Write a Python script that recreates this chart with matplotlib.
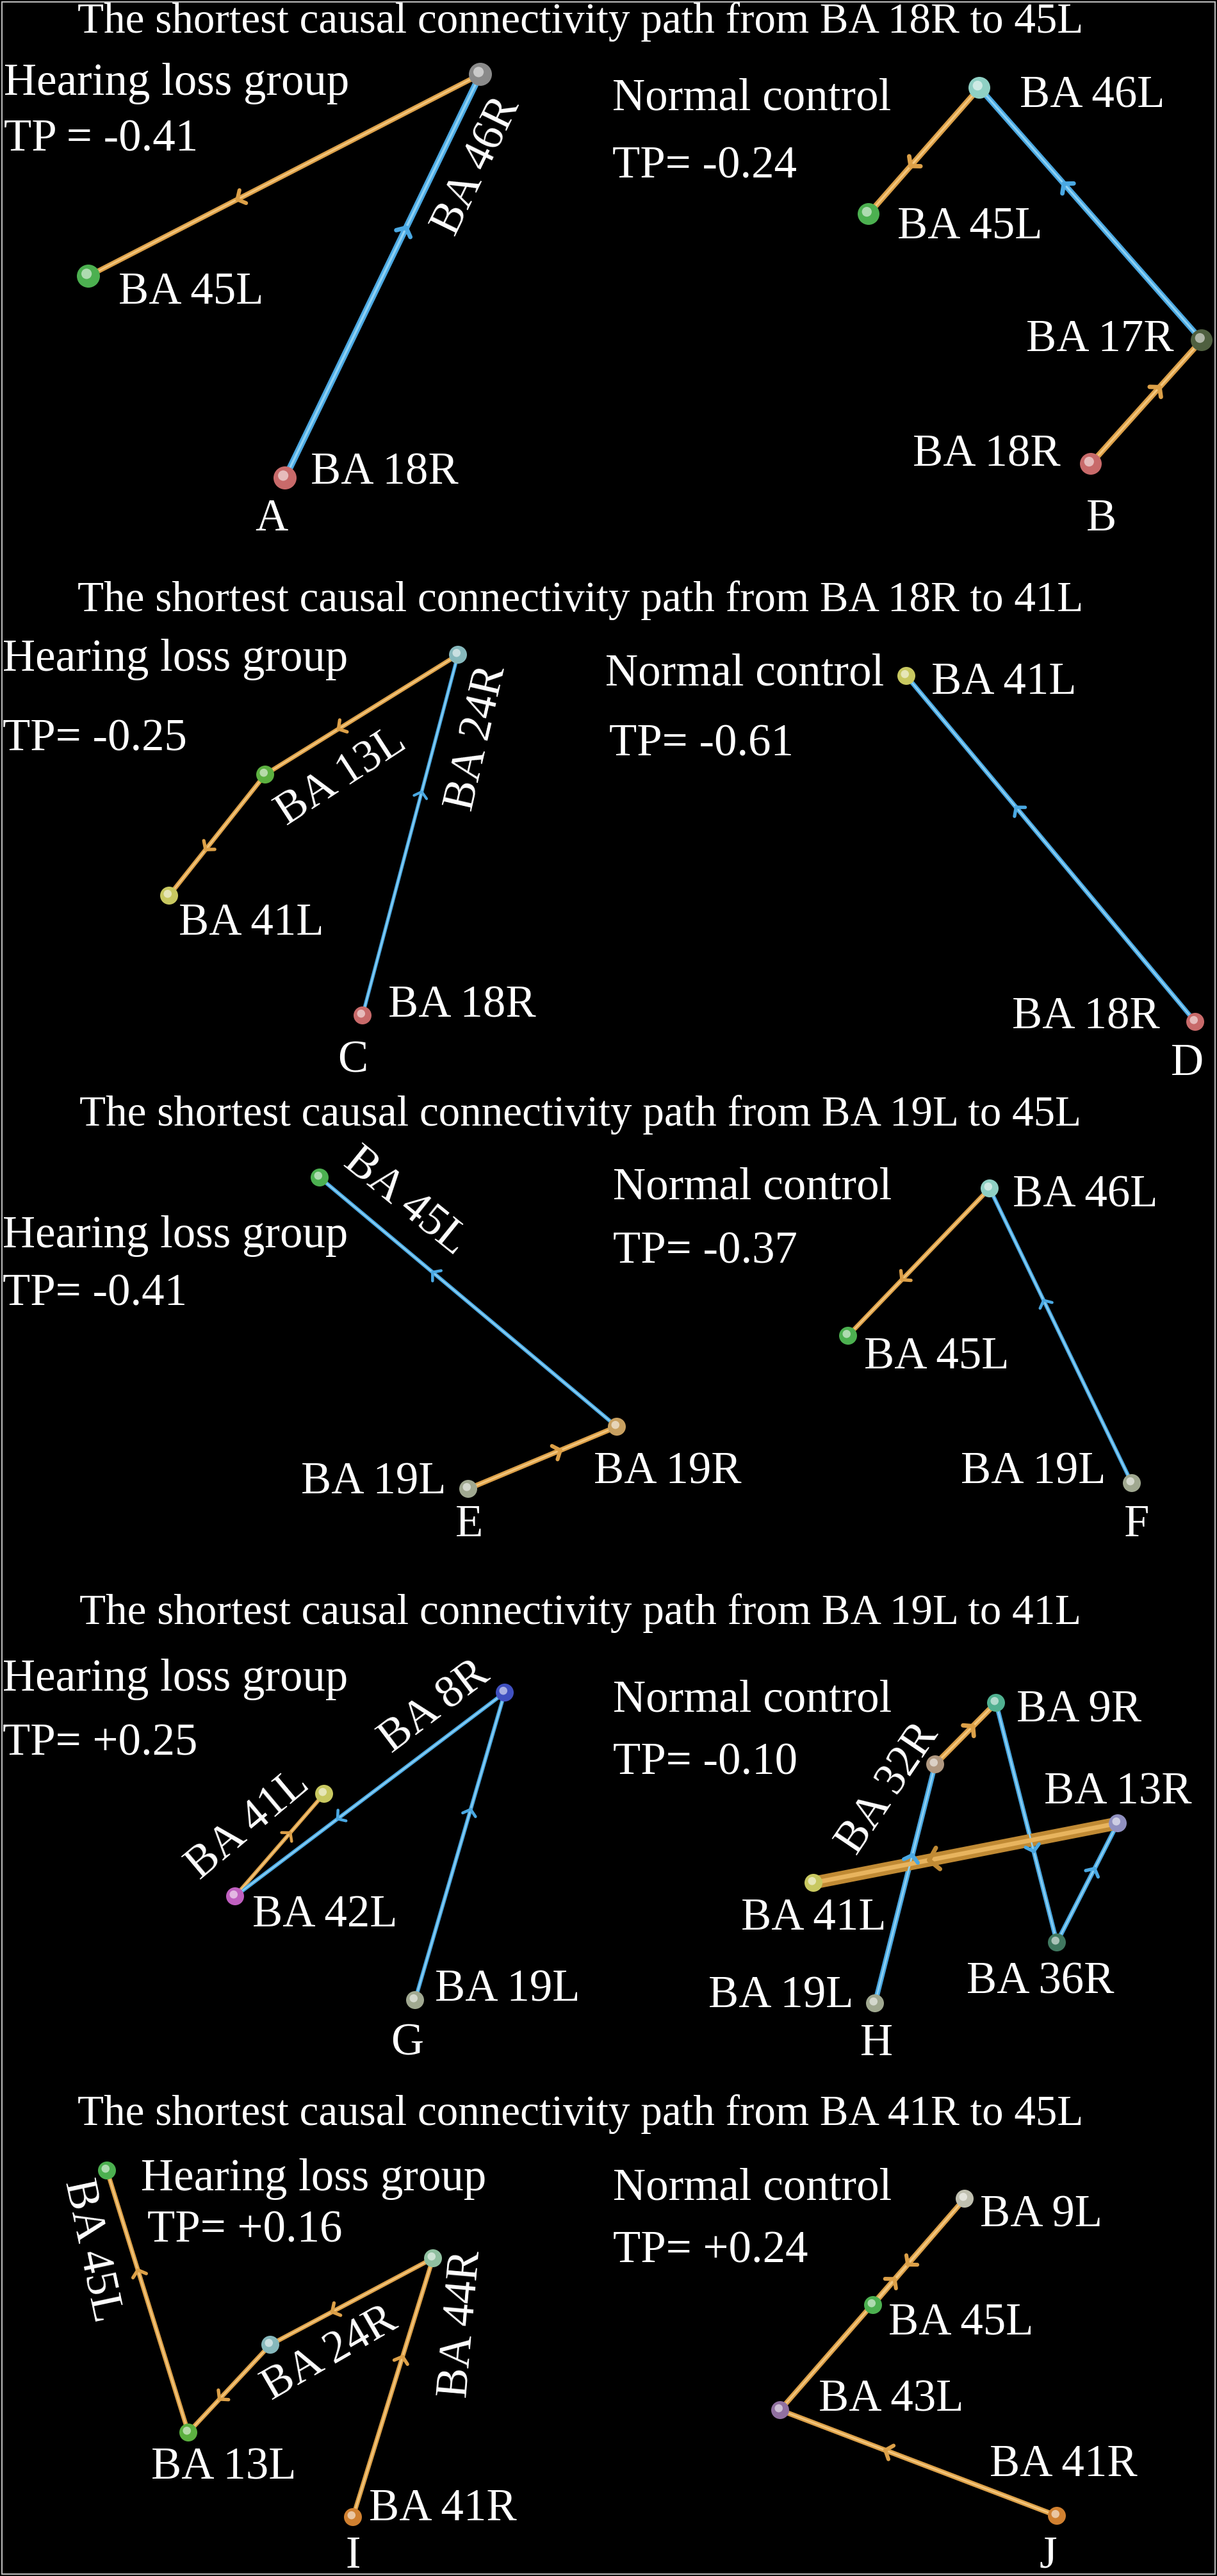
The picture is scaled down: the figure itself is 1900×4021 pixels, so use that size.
import matplotlib.pyplot as plt
import matplotlib.colors as mcolors
from matplotlib.patches import Rectangle
import numpy as np

plt.rcParams['font.family'] = ['Liberation Serif', 'DejaVu Serif']

# ---- text of the five rows ----
titles = [
    "The shortest causal connectivity path from BA 18R to 45L",
    "The shortest causal connectivity path from BA 18R to 41L",
    "The shortest causal connectivity path from BA 19L to 45L",
    "The shortest causal connectivity path from BA 19L to 41L",
    "The shortest causal connectivity path from BA 41R to 45L",
]
hl_tp = ["TP = -0.41", "TP= -0.25", "TP= -0.41", "TP= +0.25", "TP= +0.16"]
nc_tp = ["TP= -0.24", "TP= -0.61", "TP= -0.37", "TP= -0.10", "TP= +0.24"]
letters = list("ABCDEFGHIJ")

# ---- nodes and edges of every graph (image pixel coords) ----
# edges: (from, to, colour)  o = orange, b = blue
A_names = ["BA 46R", "BA 45L", "BA 18R"]
A_x = [750, 138, 445]
A_y = [116, 431, 746]
A_cols = ["#8a8a8a", "#4cb050", "#c86a6a"]
A_edges = [(0, 1, "o"), (2, 0, "b")]

B_names = ["BA 46L", "BA 45L", "BA 17R", "BA 18R"]
B_x = [1529, 1356, 1876, 1703]
B_y = [137, 334, 531, 724]
B_cols = ["#8fd0c4", "#4cb050", "#4f6040", "#c86a6a"]
B_edges = [(0, 1, "o"), (2, 0, "b"), (3, 2, "o")]

C_names = ["BA 24R", "BA 13L", "BA 41L", "BA 18R"]
C_x = [715, 414, 264, 566]
C_y = [1022, 1209, 1398, 1585]
C_cols = ["#86b8bc", "#5cb040", "#c8c860", "#c86a6a"]
C_edges = [(0, 1, "o"), (1, 2, "o"), (3, 0, "b")]

D_names = ["BA 41L", "BA 18R"]
D_x = [1415, 1866]
D_y = [1055, 1595]
D_cols = ["#c8c860", "#c86a6a"]
D_edges = [(1, 0, "b")]

E_names = ["BA 45L", "BA 19R", "BA 19L"]
E_x = [499, 963, 731]
E_y = [1838, 2227, 2324]
E_cols = ["#4cb050", "#c8a060", "#a0a890"]
E_edges = [(2, 1, "o"), (1, 0, "b")]

F_names = ["BA 46L", "BA 45L", "BA 19L"]
F_x = [1545, 1324, 1767]
F_y = [1855, 2085, 2315]
F_cols = ["#8fd0c4", "#4cb050", "#a0a890"]
F_edges = [(0, 1, "o"), (2, 0, "b")]

G_names = ["BA 8R", "BA 41L", "BA 42L", "BA 19L"]
G_x = [788, 506, 367, 648]
G_y = [2642, 2800, 2960, 3122]
G_cols = ["#4050c0", "#c8c860", "#c060c0", "#a0a890"]
G_edges = [(2, 1, "o"), (0, 2, "b"), (3, 0, "b")]

H_names = ["BA 9R", "BA 32R", "BA 13R", "BA 41L", "BA 36R", "BA 19L"]
H_x = [1555, 1460, 1745, 1270, 1650, 1366]
H_y = [2658, 2754, 2846, 2939, 3032, 3127]
H_cols = ["#50b090", "#b09880", "#9090c0", "#c8c860", "#407860", "#a0a890"]
H_edges = [(5, 1, "b"), (1, 0, "o"), (0, 4, "b"), (4, 2, "b"), (2, 3, "O")]

I_names = ["BA 45L", "BA 44R", "BA 24R", "BA 13L", "BA 41R"]
I_x = [167, 676, 422, 294, 551]
I_y = [3388, 3525, 3660, 3797, 3929]
I_cols = ["#4cb050", "#90c0a0", "#86b8bc", "#5cb040", "#d08030"]
I_edges = [(4, 1, "o"), (1, 2, "o"), (2, 3, "o"), (3, 0, "o")]

J_names = ["BA 9L", "BA 45L", "BA 43L", "BA 41R"]
J_x = [1506, 1363, 1218, 1650]
J_y = [3432, 3598, 3762, 3927]
J_cols = ["#c0c0b0", "#4cb050", "#9070a0", "#d08030"]
J_edges = [(3, 2, "o"), (2, 0, "o"), (0, 1, "o")]

# ---- layout / style ----
W, H = 1900, 4021
FS = 51
FS_TITLE = 48.3
PAL = {"o": ("#dca048", "#f4c77e"),
       "O": ("#c08a34", "#e8b45e"),
       "b": ("#4aa8e2", "#8ed2f5")}

title_y = [51, 954, 1757, 2535, 3317]
hl_pos = [(6, 148), (4, 1047), (4, 1947), (4, 2639), (220, 3419)]
hl_tp_pos = [(6, 235), (4, 1172), (4, 2038), (4, 2739), (230, 3500)]
nc_pos = [(956, 171), (945, 1070), (957, 1871), (957, 2671), (957, 3434)]
nc_tp_pos = [(956, 278), (951, 1180), (957, 1972), (957, 2769), (957, 3531)]
letter_pos = [(424, 811), (1720, 811), (551, 1656), (1854, 1661), (733, 2380),
              (1775, 2380), (636, 3190), (1369, 3190), (551, 3990), (1636, 3990)]

# label offsets from node: (dx, dy, rotation, ha); rotation != 0 -> centred
A_lab = [(-5, 144, 64, "c"), (47, 43, 0, "left"), (40, 9, 0, "left")]
B_lab = [(63, 31, 0, "left"), (45, 38, 0, "left"), (-44, 17, 0, "right"), (-47, 3, 0, "right")]
C_lab = [(30, 130, 77, "c"), (119, 4, 33, "c"), (15, 61, 0, "left"), (40, 3, 0, "left")]
D_lab = [(39, 28, 0, "left"), (-55, 11, 0, "right")]
E_lab = [(134, 37, -39, "c"), (-36, 89, 0, "left"), (-34, 8, 0, "right")]
F_lab = [(36, 29, 0, "left"), (25, 51, 0, "left"), (-40, 1, 0, "right")]
G_lab = [(-109, 23, 37, "c"), (-118, 49, 40, "c"), (27, 47, 0, "left"), (31, 2, 0, "left")]
H_lab = [(32, 30, 0, "left"), (-73, 38, 56, "c"), (-115, -31, 0, "left"),
         (-113, 73, 0, "left"), (-141, 79, 0, "left"), (-33, 7, 0, "right")]
I_lab = [(-24, 125, -78, "c"), (45, 103, 85, "c"), (93, 14, 30, "c"),
         (-58, 73, 0, "left"), (25, 5, 0, "left")]
J_lab = [(24, 43, 0, "left"), (24, 45, 0, "left"), (60, 1, 0, "left"), (-105, -62, 0, "left")]

# edge widths in px
A_w = [8, 10]
B_w = [9, 9, 9]
C_w = [7, 7, 5.5]
D_w = [7]
E_w = [8, 6]
F_w = [7, 6]
G_w = [6, 6, 6]
H_w = [8, 9, 7, 7, 20]
I_w = [7, 7, 7, 7]
J_w = [8, 8, 8]

fig = plt.figure(figsize=(W / 100, H / 100), dpi=100, facecolor="black")
ax = fig.add_axes([0, 0, 1, 1])
ax.set_facecolor("black")
ax.set_xlim(0, W)
ax.set_ylim(H, 0)
ax.axis("off")
ax.add_patch(Rectangle((3, 3), W - 6, H - 6, fill=False, ec="#bbbbbb", lw=1.5))


def lighten(c, f=0.55):
    r = np.array(mcolors.to_rgb(c))
    return tuple(r + (1 - r) * f)


def draw(names, xs, ys, cols, edges, widths, labels, node_d):
    xs = np.array(xs, float)
    ys = np.array(ys, float)
    for (i, j, c), w in zip(edges, widths):
        outer, inner = PAL[c]
        ax.plot([xs[i], xs[j]], [ys[i], ys[j]], color=outer, lw=w * 0.72,
                solid_capstyle="butt", zorder=2)
        ax.plot([xs[i], xs[j]], [ys[i], ys[j]], color=inner, lw=w * 0.72 * 0.35,
                solid_capstyle="butt", zorder=3)
        d = np.array([xs[j] - xs[i], ys[j] - ys[i]])
        u = d / np.hypot(*d)
        p = np.array([xs[i], ys[i]]) + 0.62 * d
        L = 10 + 0.6 * w
        for a in (np.radians(50), -np.radians(50)):
            r = np.array([u[0] * np.cos(a) - u[1] * np.sin(a),
                          u[0] * np.sin(a) + u[1] * np.cos(a)])
            q = p - L * r
            ax.plot([p[0], q[0]], [p[1], q[1]], color=outer,
                    lw=max(min(w, 9) * 0.55, 3), solid_capstyle="round", zorder=4)
    ax.scatter(xs, ys, s=(node_d * 0.72) ** 2, c=cols, edgecolors="none", zorder=5)
    ax.scatter(xs - node_d * 0.08, ys - node_d * 0.1, s=(node_d * 0.72 * 0.45) ** 2,
               c=[lighten(c) for c in cols], edgecolors="none", zorder=6)
    for k, (dx, dy, rot, ha) in enumerate(labels):
        if rot:
            ax.text(xs[k] + dx, ys[k] + dy, names[k], rotation=rot, rotation_mode="anchor",
                    ha="center", va="center", color="white", fontsize=FS)
        else:
            ax.text(xs[k] + dx, ys[k] + dy, names[k], ha=ha, va="baseline",
                    color="white", fontsize=FS)


graphs = [
    (A_names, A_x, A_y, A_cols, A_edges, A_w, A_lab, 36),
    (B_names, B_x, B_y, B_cols, B_edges, B_w, B_lab, 34),
    (C_names, C_x, C_y, C_cols, C_edges, C_w, C_lab, 28),
    (D_names, D_x, D_y, D_cols, D_edges, D_w, D_lab, 28),
    (E_names, E_x, E_y, E_cols, E_edges, E_w, E_lab, 28),
    (F_names, F_x, F_y, F_cols, F_edges, F_w, F_lab, 28),
    (G_names, G_x, G_y, G_cols, G_edges, G_w, G_lab, 28),
    (H_names, H_x, H_y, H_cols, H_edges, H_w, H_lab, 28),
    (I_names, I_x, I_y, I_cols, I_edges, I_w, I_lab, 28),
    (J_names, J_x, J_y, J_cols, J_edges, J_w, J_lab, 28),
]
for g in graphs:
    draw(*g)

for k in range(5):
    ax.text(906, title_y[k], titles[k], ha="center", va="baseline", color="white",
            fontsize=FS_TITLE)
    ax.text(*hl_pos[k], "Hearing loss group", ha="left", va="baseline", color="white", fontsize=FS)
    ax.text(*hl_tp_pos[k], hl_tp[k], ha="left", va="baseline", color="white", fontsize=FS)
    ax.text(*nc_pos[k], "Normal control", ha="left", va="baseline", color="white", fontsize=FS)
    ax.text(*nc_tp_pos[k], nc_tp[k], ha="left", va="baseline", color="white", fontsize=FS)

for lt, (x, y) in zip(letters, letter_pos):
    ax.text(x, y, lt, ha="center", va="center", color="white", fontsize=FS)

fig.savefig("out.png", dpi=100, facecolor="black")
